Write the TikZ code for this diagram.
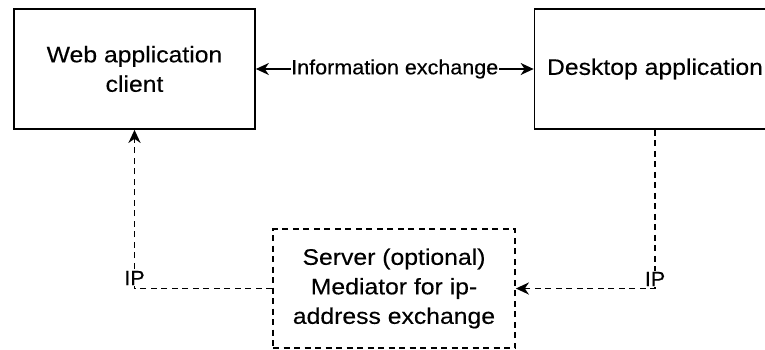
\documentclass[tikz,border=0pt]{standalone}
\usepackage{fontspec}
\setmainfont{Liberation Sans}
\newfontfamily\boxfont{Liberation Sans}[FakeStretch=1.1,FakeBold=0.3]
\newfontfamily\lblfont{Liberation Sans}[FakeStretch=1.05,FakeBold=0.3]
\usetikzlibrary{arrows.meta}
\begin{document}
\begin{tikzpicture}[x=1pt,y=-1pt,
  box/.style={draw, line width=1.7pt, minimum width=241pt, minimum height=120pt, inner sep=0pt, align=center, font=\boxfont\fontsize{22.5}{29.5}\selectfont},
  dbox/.style={box, dash pattern=on 6pt off 4.5pt, line width=1.7pt},
  lbl/.style={fill=white, inner sep=0.5pt, font=\lblfont\fontsize{20.5}{24}\selectfont},
  arr/.style={line width=1.7pt},
  darr/.style={line width=1.9pt, dash pattern=on 6pt off 4.5pt}]
\useasboundingbox (0,0) rectangle (765,349);
\clip (0,0) rectangle (765,349);
\node[box] (web) at (134.5,69) {Web application\\client};
\node[box] (desk) at (655,69) {Desktop application};
\node[dbox, minimum width=242pt, minimum height=119pt] (srv) at (394,288.5) {Server (optional)\\Mediator for ip-\\address exchange};
\draw[arr, {Stealth[length=13pt,width=12pt,inset=4pt]}-{Stealth[length=13pt,width=12pt,inset=4pt]}] (web.east) -- node[lbl]{Information exchange} (desk.west);
\draw[darr, -{Stealth[length=13pt,width=12pt,inset=4pt]}] (srv.west) -| node[lbl,pos=0.533]{IP} (web.south);
\draw[darr, -{Stealth[length=13pt,width=12pt,inset=4pt]}] (desk.south) |- node[lbl,pos=0.47]{IP} (srv.east);
\end{tikzpicture}
\end{document}
